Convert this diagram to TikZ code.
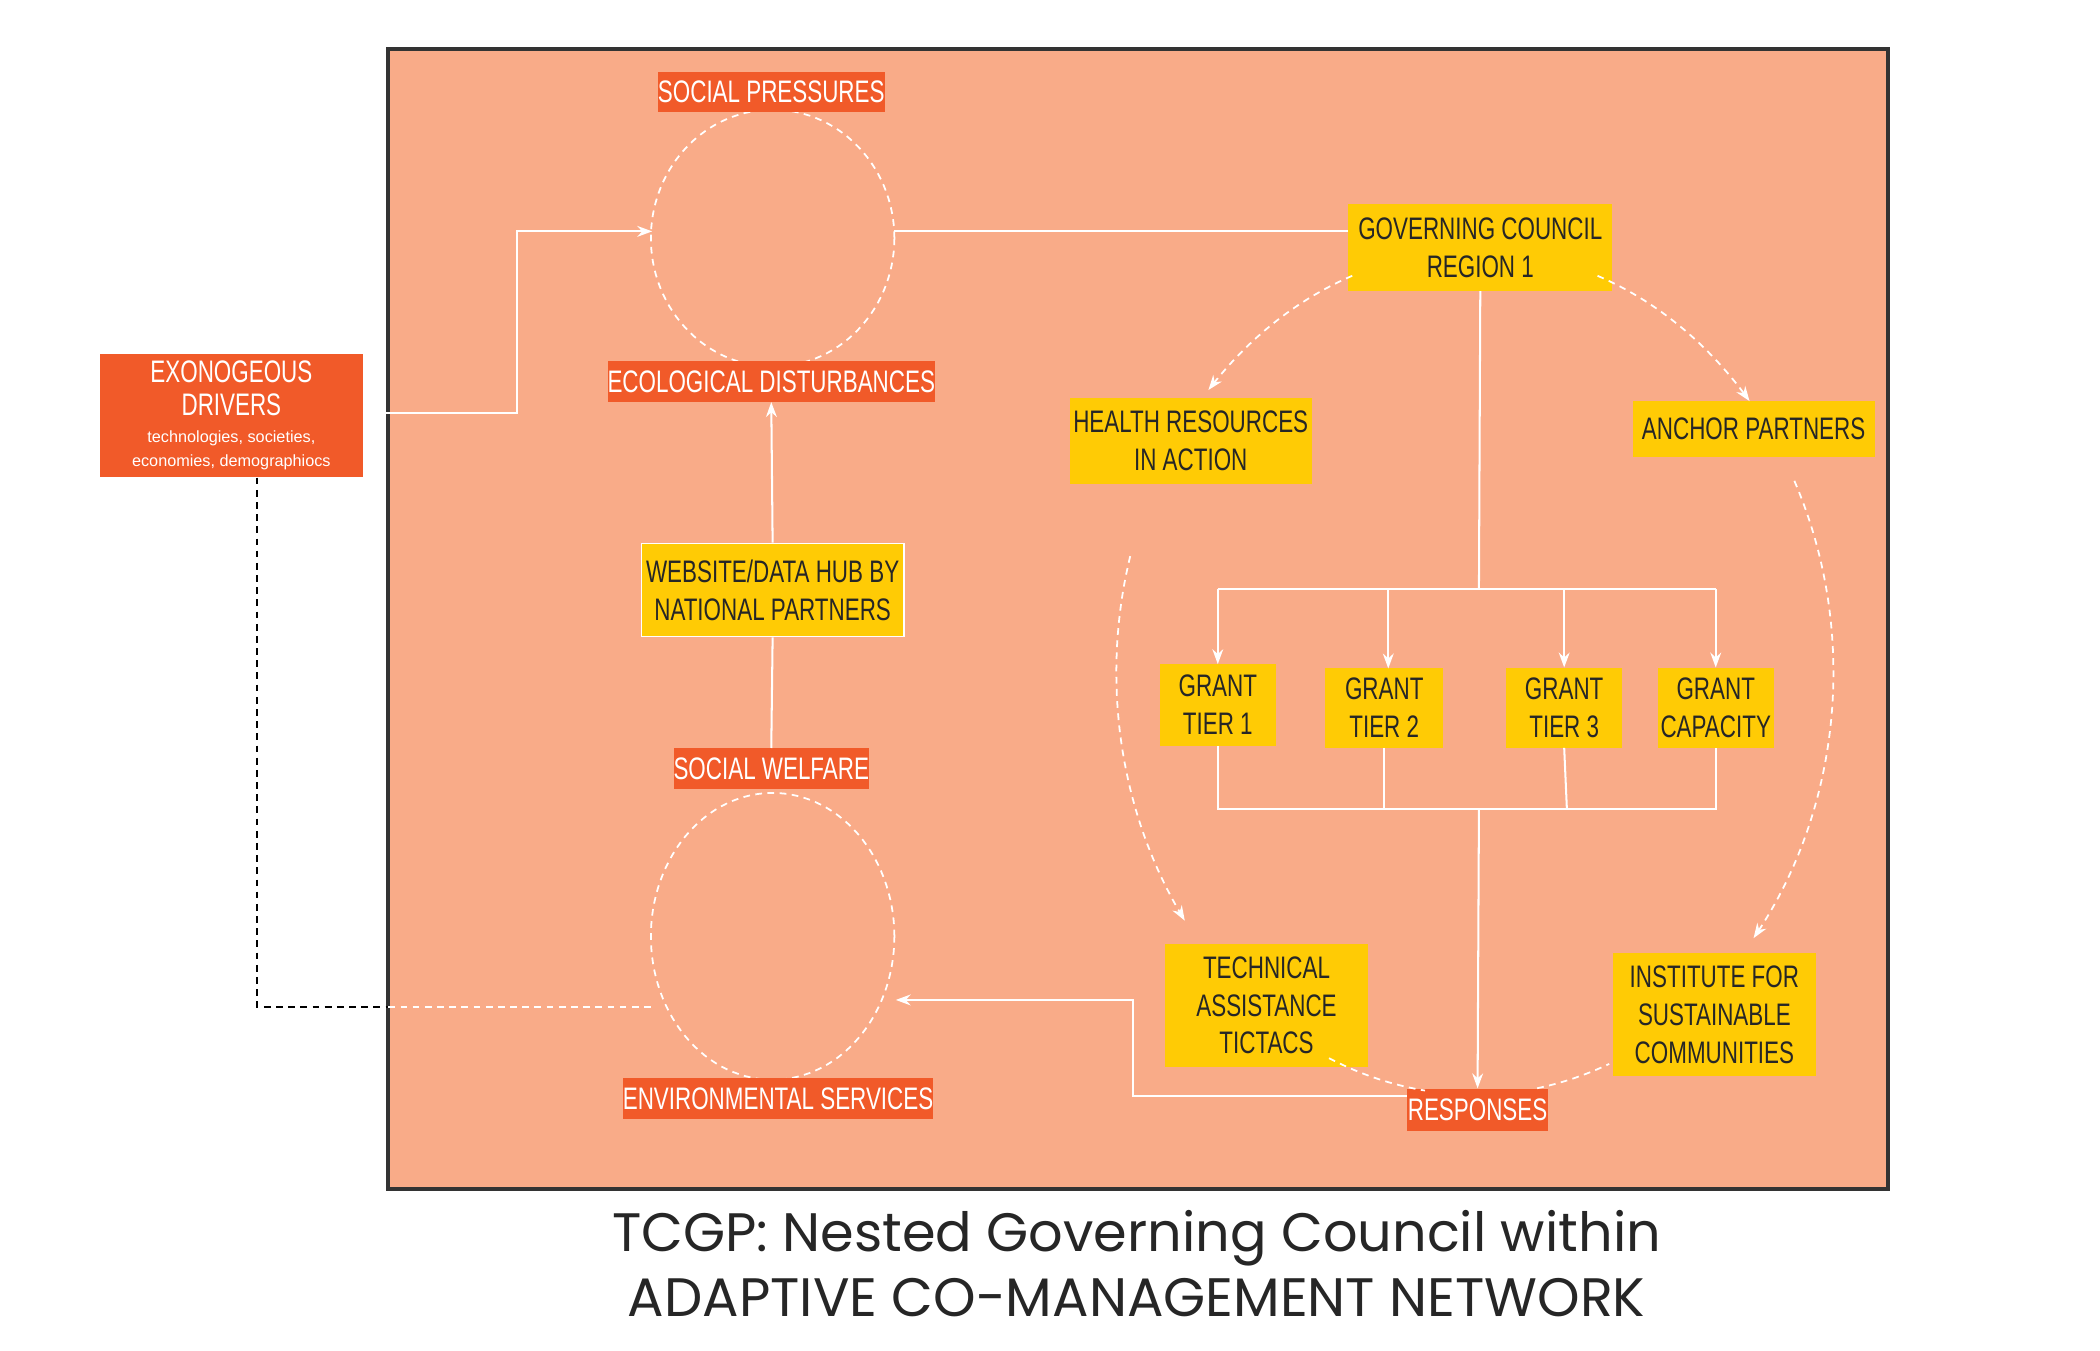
\documentclass[tikz,border=0pt]{standalone}
\usepackage{fontspec}
\setmainfont{Liberation Sans}
\newfontfamily\narrowf[FakeStretch=0.72]{Liberation Sans}
\newfontfamily\titlef{Poppins}
\usetikzlibrary{arrows.meta}
\definecolor{salmon}{HTML}{F9AB88}
\definecolor{orng}{HTML}{F15A29}
\definecolor{yel}{HTML}{FFCB05}
\definecolor{frame}{HTML}{333333}
\tikzset{
 obox/.style={fill=orng,text=white,font=\narrowf\fontsize{23}{26}\selectfont,inner sep=0pt,align=center},
 ybox/.style={fill=yel,text=black!85,font=\narrowf\fontsize{23}{28}\selectfont,inner sep=0pt,align=center},
 wl/.style={draw=white,line width=1.5pt},
 wa/.style={wl,-{Stealth[length=11pt,width=8pt]}},
 wd/.style={draw=white,line width=1.3pt,dash pattern=on 5pt off 4pt},
 wda/.style={wd,-{Stealth[length=11pt,width=8pt]}},
}
\begin{document}
\begin{tikzpicture}[x=1pt,y=-1pt]
\useasboundingbox[fill=white] (0,0) rectangle (1552,998);
\draw[fill=salmon,draw=frame,line width=3pt] (287,36) rectangle (1395,879);
% nodes
\node[obox,minimum width=155,minimum height=30] (sp) at (570,68) {SOCIAL PRESSURES};
\node[obox,minimum width=222,minimum height=30] (ed) at (570,282) {ECOLOGICAL DISTURBANCES};
\node[obox,minimum width=194,minimum height=91] (ex) at (171,307) {EXONOGEOUS\\[-2pt]DRIVERS\\[-6pt]{\fontsize{12}{14}\selectfont\rmfamily technologies, societies,}\\[-8pt]{\fontsize{12}{14}\selectfont\rmfamily economies, demographiocs}};
\node[ybox,draw=white,line width=1pt,minimum width=194,minimum height=69] (wd) at (571,436) {WEBSITE/DATA HUB BY\\NATIONAL PARTNERS};
\node[obox,minimum width=138,minimum height=30] (sw) at (570,568) {SOCIAL WELFARE};
\node[obox,minimum width=206,minimum height=30] (es) at (575,812) {ENVIRONMENTAL SERVICES};
\node[ybox,minimum width=195,minimum height=64] (gc) at (1094,183) {GOVERNING COUNCIL\\REGION 1};
\node[ybox,minimum width=179,minimum height=63] (hr) at (880,326) {HEALTH RESOURCES\\IN ACTION};
\node[ybox,minimum width=179,minimum height=41] (ap) at (1296,317) {ANCHOR PARTNERS};
\node[ybox,minimum width=86,minimum height=60] (g1) at (900,521) {GRANT\\TIER 1};
\node[ybox,minimum width=87,minimum height=59] (g2) at (1023,523) {GRANT\\TIER 2};
\node[ybox,minimum width=86,minimum height=59] (g3) at (1156,523) {GRANT\\TIER 3};
\node[ybox,minimum width=86,minimum height=59] (g4) at (1268,523) {GRANT\\CAPACITY};
\node[ybox,minimum width=150,minimum height=91] (ta) at (936,743) {TECHNICAL\\ASSISTANCE\\TICTACS};
\node[ybox,minimum width=150,minimum height=91] (is) at (1267,750) {INSTITUTE FOR\\SUSTAINABLE\\COMMUNITIES};
\node[obox,minimum width=104,minimum height=31] (rs) at (1092,820) {RESPONSES};
% small ellipses
\draw[wd] plot[domain=0:360,samples=120] ({571+90*cos(\x)},{176-95*sin(\x)});
\draw[wd] plot[domain=0:360,samples=120] ({571+90*cos(\x)},{692-106*sin(\x)});
\node[obox,minimum width=155,minimum height=30] at (sp) {SOCIAL PRESSURES};
\node[obox,minimum width=222,minimum height=30] at (ed) {ECOLOGICAL DISTURBANCES};
\node[obox,minimum width=138,minimum height=30] at (sw) {SOCIAL WELFARE};
\node[obox,minimum width=206,minimum height=30] at (es) {ENVIRONMENTAL SERVICES};
% big ellipse arcs
\draw[wda] plot[domain=110:138,samples=30] ({1090+265*cos(\x)},{497-312*sin(\x)});
\draw[wda] plot[domain=164:216,samples=40] ({1090+265*cos(\x)},{497-312*sin(\x)});
\draw[wd] plot[domain=246:262,samples=20] ({1090+265*cos(\x)},{497-312*sin(\x)});
\draw[wd] plot[domain=280:292,samples=20] ({1090+265*cos(\x)},{497-312*sin(\x)});
\draw[wda] plot[domain=27:-39,samples=40] ({1090+265*cos(\x)},{497-312*sin(\x)});
\draw[wda] plot[domain=70:40,samples=30] ({1090+265*cos(\x)},{497-312*sin(\x)});
% coordinates
\coordinate (ule) at (482,171); \coordinate (uri) at (661,171);
\coordinate (lle) at (482,744); \coordinate (lri) at (662,739);
% solid connectors
\draw[wa] (ex.east |- 0,305) -- (382,305) -- (382,171) -- (ule);
\draw[wl] (uri) -- (gc.west |- uri);
\draw[wa] (wd.north) -- (ed.south);
\draw[wl] (wd.south) -- (sw.north);
\draw[wl] (gc.south) -- (1093,435);
\draw[wl] (900,435) -- (1268,435);
\draw[wa] (900,435) -- (g1.north);
\draw[wa] (1026,435) -- (1026,494);
\draw[wa] (1156,435) -- (g3.north);
\draw[wa] (1268,435) -- (g4.north);
\draw[wl] (g1.south) -- (900,598) -- (1268,598) -- (g4.south);
\draw[wl] (g2.south) -- (1023,598);
\draw[wl] (g3.south) -- (1158,598);
\draw[wa] (1093,598) -- (rs.north);
\draw[wa] (rs.west |- 0,810) -- (837,810) -- (837,739) -- (lri);
% dashed exo
\draw[black,line width=1.2pt,dash pattern=on 5pt off 4pt] (190,353) -- (190,744) -- (287,744);
\draw[wd] (287,744) -- (lle);
% title
\node[font=\titlef\fontsize{40}{48}\selectfont,text=black!85,align=center] at (840,934) {TCGP: Nested Governing Council within\\ADAPTIVE CO-MANAGEMENT NETWORK};
\end{tikzpicture}
\end{document}
